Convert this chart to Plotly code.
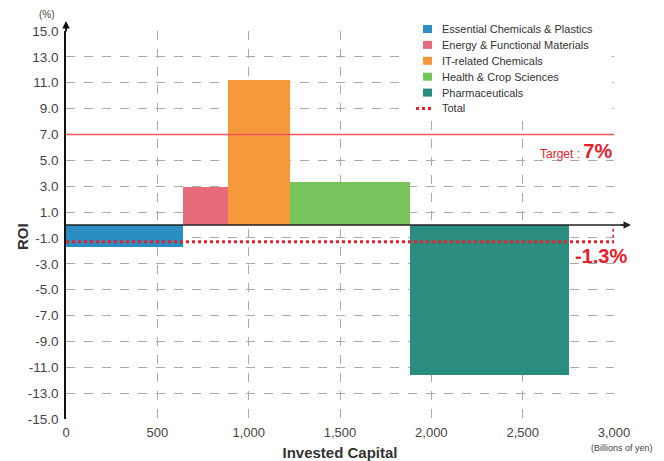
import plotly.graph_objects as go

segments = ["Essential Chemicals & Plastics", "Energy & Functional Materials",
            "IT-related Chemicals", "Health & Crop Sciences", "Pharmaceuticals"]
invested_capital = [640, 245, 340, 657, 870]   # billions of yen (bar widths)
roi = [-1.7, 2.9, 11.2, 3.3, -11.6]             # %
colors = ["#2b8ec3", "#e56b7b", "#f7993b", "#77c35c", "#2a8d80"]
target_roi = 7.0
total_roi = -1.3
x_ticks = [0, 500, 1000, 1500, 2000, 2500, 3000]
x_tick_labels = ["0", "500", "1,000", "1,500", "2,000", "2,500", "3,000"]
y_ticks = list(range(-15, 16, 2))
y_tick_labels = [f"{v:.1f}" for v in y_ticks]

OFF = 8  # page body margin
W, H = 664 - OFF, 461 - OFF
ML, MR, MT, MB = 66 - OFF, 50, 31 - OFF, 42
PW, PH = W - ML - MR, H - MT - MB


def px(xs):
    return (xs - OFF - ML) / PW


def py(ys):
    return (OFF + H - MB - ys) / PH


fig = go.Figure()
start = 0
for name, w, v, c in zip(segments, invested_capital, roi, colors):
    fig.add_trace(go.Bar(x=[start + w / 2], y=[v], width=[w], base=0, name=name,
                         marker=dict(color=c, line=dict(width=0)), showlegend=False))
    start += w

# Target line
fig.add_trace(go.Scatter(x=[0, 3000], y=[target_roi, target_roi], mode="lines",
                         line=dict(color="#f2555a", width=1.5), showlegend=False,
                         hoverinfo="skip"))
# Total line
fig.add_trace(go.Scatter(x=[0, 3000, 3000], y=[total_roi, total_roi, 0], mode="lines",
                         name="Total", line=dict(color="#e8202a", width=3, dash="dot"),
                         showlegend=False))

font_family = "Liberation Sans, Arial, sans-serif"
grey = "#444444"

fig.update_layout(
    width=W, height=H,
    margin=dict(l=ML, r=MR, t=MT, b=MB),
    plot_bgcolor="white", paper_bgcolor="white",
    font=dict(family=font_family, color=grey, size=13),
    barmode="overlay", bargap=0,
    showlegend=False,
    xaxis=dict(range=[0, 3000], tickvals=x_ticks, ticktext=x_tick_labels,
               showgrid=True, gridcolor="#aaaaaa", griddash="dash", gridwidth=1,
               zeroline=False, showline=False, ticks="", automargin=False,
               ticklabelstandoff=4,
               tickfont=dict(size=13, color=grey),
               title=dict(text="<b>Invested Capital</b>", font=dict(size=15, color="#333"),
                          standoff=8)),
    yaxis=dict(range=[-15, 15], tickvals=y_ticks, ticktext=y_tick_labels,
               showgrid=True, gridcolor="#aaaaaa", griddash="dash", gridwidth=1,
               zeroline=False, showline=True, linecolor="#111", linewidth=1.5,
               ticks="", automargin=False, ticklabelstandoff=3,
               tickfont=dict(size=13.5, color=grey)),
)

# y axis title
fig.add_annotation(xref="paper", yref="paper", x=px(22), y=py(237), text="<b>ROI</b>",
                   textangle=-90, showarrow=False, xanchor="center", yanchor="middle",
                   font=dict(size=15, color="#333"))

# x axis line at y=0 extended to arrow
fig.add_shape(type="line", xref="paper", yref="y", x0=0, x1=px(626), y0=0, y1=0,
              line=dict(color="#222", width=1.5), layer="above")
fig.add_annotation(xref="paper", yref="y", x=px(631), y=0, ax=-12, ay=0, text="",
                   showarrow=True, arrowhead=2, arrowsize=1, arrowwidth=1.5, arrowcolor="#222")
# y axis arrow
fig.add_shape(type="line", xref="paper", yref="paper", x0=0, x1=0, y0=1, y1=py(26),
              line=dict(color="#111", width=1.5))
fig.add_annotation(xref="paper", yref="paper", x=0, y=py(21), ax=0, ay=12, text="",
                   showarrow=True, arrowhead=2, arrowsize=1, arrowwidth=1.5, arrowcolor="#111")

fig.add_annotation(xref="paper", yref="paper", x=px(47), y=py(15), text="(%)", showarrow=False,
                   xanchor="center", yanchor="middle", font=dict(size=10, color=grey))
fig.add_annotation(xref="paper", yref="paper", x=px(589), y=py(448), text="(Billions of yen)",
                   showarrow=False, xanchor="left", yanchor="middle",
                   font=dict(size=9, color=grey))

fig.add_annotation(xref="x", yref="y", x=3000, y=5.7,
                   text="<span style='font-size:12px'>Target : </span><b>7%</b>",
                   showarrow=False, xanchor="right", yanchor="middle",
                   font=dict(size=20, color="#e8202a"))
fig.add_annotation(xref="paper", yref="y", x=px(629), y=-2.4,
                   text="<b>-1.3%</b>", showarrow=False, xanchor="right", yanchor="middle",
                   font=dict(size=20, color="#e8202a"))

# Legend (drawn manually to match the compact spacing)
fig.add_shape(type="rect", xref="paper", yref="paper", x0=px(408), x1=px(612),
              y0=py(118), y1=py(19), fillcolor="white", line=dict(width=0), layer="above")
legend_names = segments + ["Total"]
for i, name in enumerate(legend_names):
    yc = 29 + i * 15.9
    if i < len(colors):
        fig.add_shape(type="rect", xref="paper", yref="paper", x0=px(423), x1=px(432),
                      y0=py(yc + 4), y1=py(yc - 4), fillcolor=colors[i], line=dict(width=0),
                      layer="above")
    else:
        fig.add_shape(type="line", xref="paper", yref="paper", x0=px(416), x1=px(434),
                      y0=py(yc), y1=py(yc), line=dict(color="#e8202a", width=3, dash="dot"),
                      layer="above")
    fig.add_annotation(xref="paper", yref="paper", x=px(440), y=py(yc), text=name,
                       showarrow=False, xanchor="left", yanchor="middle",
                       font=dict(size=11, color="#333"))

fig.write_html("out.html")
